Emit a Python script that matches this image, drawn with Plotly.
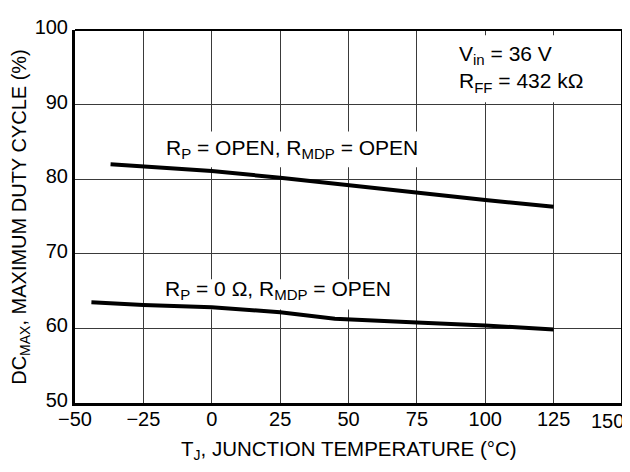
import plotly.graph_objects as go

# Curve 1: R_P = OPEN, R_MDP = OPEN
t_open = [-37, -25, 0, 25, 50, 75, 100, 125]
dc_open = [82.0, 81.7, 81.1, 80.2, 79.2, 78.1, 77.2, 76.3]

# Curve 2: R_P = 0 ohm, R_MDP = OPEN
t_zero = [-44, -25, 0, 25, 45, 50, 75, 100, 125]
dc_zero = [63.5, 63.15, 62.85, 62.15, 61.3, 61.2, 60.8, 60.4, 59.85]

x_ticks = [-50, -25, 0, 25, 50, 75, 100, 125, 150]
x_ticktext = ["−50", "−25", "0", "25", "50", "75", "100", "125", ""]
y_ticks = [50, 60, 70, 80, 90, 100]

FONT = "Liberation Sans, Arial, Helvetica, sans-serif"


def sub(s, px=15):
    return "<sub><span style='font-size:%dpx'>%s</span></sub>" % (px, s)


fig = go.Figure()
fig.add_trace(go.Scatter(x=t_open, y=dc_open, mode="lines",
                         line=dict(color="black", width=4), showlegend=False))
fig.add_trace(go.Scatter(x=t_zero, y=dc_zero, mode="lines",
                         line=dict(color="black", width=4), showlegend=False))

fig.update_layout(
    width=622, height=464,
    margin=dict(l=67, r=8, t=10, b=69),
    paper_bgcolor="white", plot_bgcolor="white",
    font=dict(family=FONT, size=20, color="black"),
    xaxis=dict(range=[-50, 150], tickvals=x_ticks, ticktext=x_ticktext,
               showgrid=True, gridcolor="#3a3a3a", gridwidth=1.2,
               zeroline=False, showline=True, linecolor="black", linewidth=3,
               mirror=False, ticks="", ticklen=0, ticklabelstandoff=-4,
               ticklabeloverflow="allow", tickfont=dict(size=20)),
    yaxis=dict(range=[50, 100], tickvals=y_ticks, showgrid=True,
               gridcolor="#3a3a3a", gridwidth=1.2, zeroline=False,
               showline=True, linecolor="black", linewidth=3, mirror=False,
               ticks="", ticklen=0, ticklabeloverflow="allow",
               ticklabelshift=-3, tickfont=dict(size=20)),
)

# top and right frame lines
fig.add_shape(type="line", xref="paper", yref="paper", x0=0, x1=1, y0=1, y1=1,
              line=dict(color="black", width=2))
fig.add_shape(type="line", xref="paper", yref="paper", x0=1, x1=1, y0=0, y1=1,
              line=dict(color="black", width=2))

# white backgrounds behind labels (between gridlines and traces)
for (bx0, bx1, by0, by1) in [(-22.6, 77.8, 81.6, 86.4),
                             (-22.6, 72.4, 62.55, 66.6),
                             (79.7, 143.5, 90.3, 99.3)]:
    fig.add_shape(type="rect", xref="x", yref="y", x0=bx0, x1=bx1,
                  y0=by0, y1=by1, fillcolor="white", line=dict(width=0),
                  layer="between")

# curve labels
fig.add_annotation(x=29.3, y=84.0, xref="x", yref="y",
                   text="R" + sub("P") + " = OPEN, R" + sub("MDP") + " = OPEN",
                   showarrow=False, font=dict(size=21))
fig.add_annotation(x=24.2, y=65.1, xref="x", yref="y",
                   text="R" + sub("P") + " = 0 Ω, R" + sub("MDP") + " = OPEN",
                   showarrow=False, font=dict(size=21))
fig.add_annotation(x=89.6, y=94.8, xref="x", yref="y", xanchor="left",
                   align="left",
                   text="V" + sub("in") + " = 36 V<br>R" + sub("FF") + " = 432 kΩ",
                   showarrow=False, font=dict(size=21))

# 150 tick label kept inside the window
fig.add_annotation(x=1, y=0, xref="paper", yref="paper", xanchor="right",
                   yanchor="top", xshift=4, yshift=-5, text="150",
                   showarrow=False, font=dict(size=20))

# axis titles
fig.add_annotation(x=0.5, y=-0.127, xref="paper", yref="paper",
                   text="T" + sub("J", 14) + ", JUNCTION TEMPERATURE (°C)",
                   showarrow=False, yanchor="middle", font=dict(size=20.5))
fig.add_annotation(x=-0.1, y=0.5, xref="paper", yref="paper", textangle=-90,
                   text="DC" + sub("MAX", 14) + ", MAXIMUM DUTY CYCLE (%)",
                   showarrow=False, xanchor="center", font=dict(size=20))

fig.write_html("out.html")
